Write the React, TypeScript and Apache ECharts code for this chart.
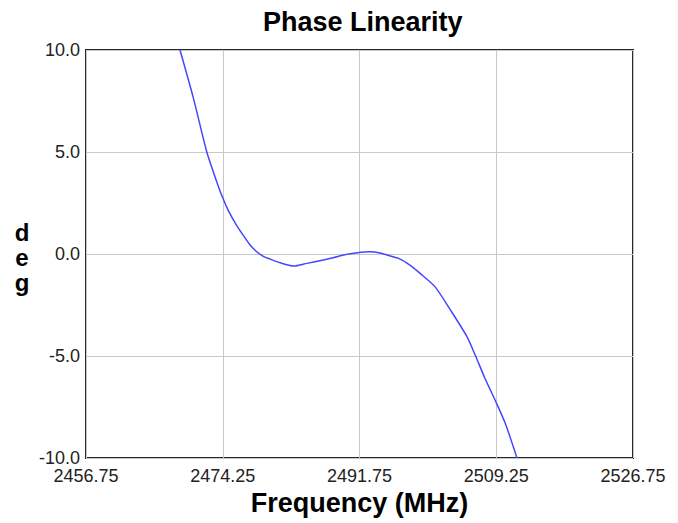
import React, { useEffect, useRef } from "react";
import * as echarts from "echarts";

const FREQ_START = 2456.75;
const FREQ_END = 2526.75;
const FREQ_STEP = 17.5;

const frequencies = [
  2468.78, 2470.5, 2472.2, 2473.2, 2474.1, 2475.0, 2476.0, 2477.0, 2477.75, 2478.6,
  2479.5, 2480.3, 2481.5, 2483.3, 2485.0, 2487.1, 2488.5, 2489.7, 2491.5, 2493.1,
  2494.5, 2495.7, 2496.95, 2498.2, 2499.5, 2501.4, 2503.4, 2505.5, 2506.55, 2507.8,
  2509.1, 2510.4, 2511.9,
];
const phaseDeg = [
  10.0, 7.63, 5.01, 3.85, 2.89, 2.1, 1.42, 0.85, 0.44, 0.11,
  -0.13, -0.25, -0.42, -0.59, -0.46, -0.29, -0.17, -0.05, 0.06, 0.11,
  0.04, -0.1, -0.25, -0.55, -0.95, -1.6, -2.75, -4.05, -4.95, -6.09,
  -7.16, -8.3, -10.0,
];
const yTitleLetters = ["d", "e", "g"];

export default function App() {
  const ref = useRef<HTMLDivElement>(null);
  useEffect(() => {
    if (!ref.current) return;
    const chart = echarts.init(ref.current, undefined, { renderer: "svg" });
    const font = "'Liberation Sans', Arial, sans-serif";
    chart.setOption({
      animation: false,
      backgroundColor: "#ffffff",
      title: {
        text: "Phase Linearity",
        left: 258,
        top: 3,
        textStyle: { fontFamily: font, fontSize: 27, fontWeight: "bold", color: "#000" },
      },
      grid: {
        left: 86,
        right: 45,
        top: 50,
        bottom: 65,
        show: true,
        borderColor: "#2a2a2a",
        borderWidth: 2,
        backgroundColor: "#fff",
      },
      xAxis: {
        type: "value",
        min: 0,
        max: FREQ_END - FREQ_START,
        interval: FREQ_STEP,
        axisLine: { show: false },
        axisTick: { show: false },
        axisLabel: {
          fontFamily: font,
          fontSize: 18,
          lineHeight: 14,
          color: "#222",
          margin: 11,
          formatter: (v: number) => (v + FREQ_START).toFixed(2),
        },
        splitLine: { show: true, lineStyle: { color: "#c8c8c8", width: 1 } },
        name: "Frequency (MHz)",
        nameLocation: "middle",
        nameGap: 31,
        nameTextStyle: { fontFamily: font, fontSize: 27, fontWeight: "bold", color: "#000" },
      },
      yAxis: {
        type: "value",
        min: -10,
        max: 10,
        interval: 5,
        axisLine: { show: false },
        axisTick: { show: false },
        axisLabel: {
          fontFamily: font,
          fontSize: 18,
          lineHeight: 14,
          color: "#222",
          margin: 6,
          formatter: (v: number) => v.toFixed(1),
        },
        splitLine: { show: true, lineStyle: { color: "#c8c8c8", width: 1 } },
      },
      graphic: yTitleLetters.map((ch, i) => ({
        type: "text",
        x: 22,
        y: 232 + i * 25,
        style: {
          text: ch,
          fontFamily: font,
          fontSize: 24,
          fontWeight: "bold",
          fill: "#000",
          textAlign: "center",
          textVerticalAlign: "middle",
        },
      })),
      series: [
        {
          type: "line",
          data: frequencies.map((f, i) => [f - FREQ_START, phaseDeg[i]]),
          showSymbol: false,
          smooth: 0.25,
          lineStyle: { color: "#4646ff", width: 1.5 },
          clip: true,
        },
      ],
    });
    return () => chart.dispose();
  }, []);
  return (
    <div
      ref={ref}
      style={{ position: "fixed", left: 0, top: 0, width: 678, height: 523 }}
    />
  );
}
